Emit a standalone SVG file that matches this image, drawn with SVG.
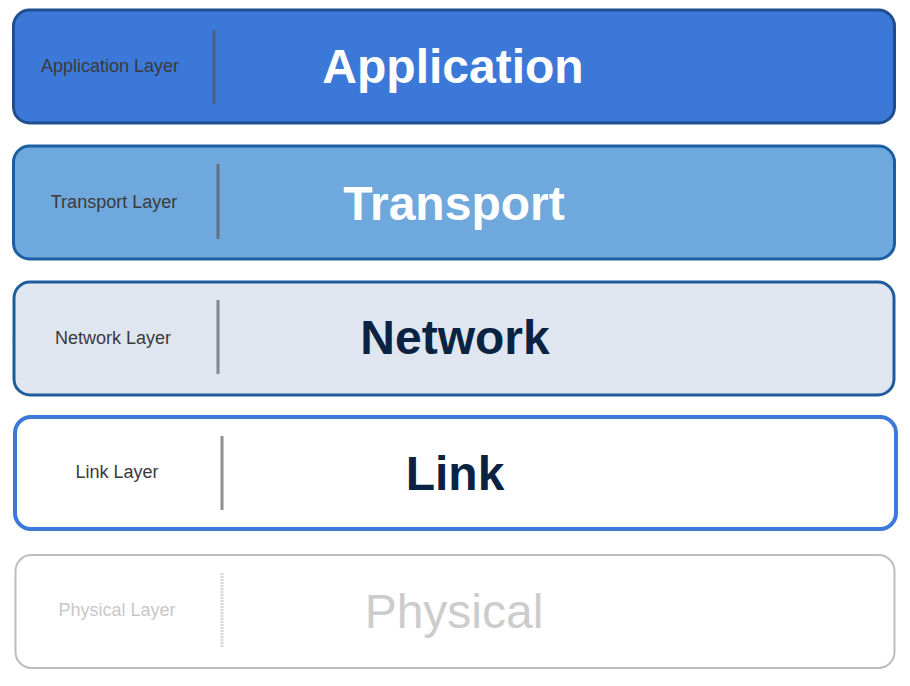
<svg xmlns="http://www.w3.org/2000/svg" width="910" height="686" viewBox="0 0 910 686">
<style>
.box{stroke-width:3}
.lbl{font-family:"Liberation Sans",Arial,sans-serif;font-size:18px;fill:#3a3a3a;text-anchor:middle}
.big{font-family:"Liberation Sans",Arial,sans-serif;font-size:48px;font-weight:bold;text-anchor:middle}
.div{stroke:#555;stroke-opacity:0.65;stroke-width:3}
</style>
<rect width="910" height="686" fill="#ffffff"/>
<g id="application">
<rect class="box" x="13.5" y="10" width="881" height="113" rx="16" fill="#3c78d8" stroke="#1f4e8f"/>
<line class="div" x1="214" y1="30" x2="214" y2="104"/>
<text class="lbl" x="110" y="72">Application Layer</text>
<text class="big" x="453" y="83" fill="#ffffff">Application</text>
</g>
<g id="transport">
<rect class="box" x="13.5" y="146" width="881" height="113" rx="16" fill="#6fa8dc" stroke="#1a5ea3"/>
<line class="div" x1="218" y1="164" x2="218" y2="239"/>
<text class="lbl" x="114" y="208">Transport Layer</text>
<text class="big" x="454" y="220" fill="#ffffff">Transport</text>
</g>
<g id="network">
<rect class="box" x="14" y="282" width="880" height="113" rx="16" fill="#dfe6f0" stroke="#1f5c9c"/>
<line class="div" x1="218" y1="300" x2="218" y2="374"/>
<text class="lbl" x="113" y="344">Network Layer</text>
<text class="big" x="455" y="354" fill="#0b2342">Network</text>
</g>
<g id="link">
<rect x="15" y="417" width="881" height="112" rx="16" fill="#ffffff" stroke="#3c78d8" stroke-width="4"/>
<line class="div" x1="222" y1="436" x2="222" y2="510"/>
<text class="lbl" x="117" y="478">Link Layer</text>
<text class="big" x="455" y="490" fill="#0b2342">Link</text>
</g>
<g id="physical">
<rect x="15.5" y="555" width="879" height="113" rx="16" fill="#ffffff" stroke="#bdbdbd" stroke-width="2"/>
<line x1="222" y1="573" x2="222" y2="648" stroke="#d6d6d6" stroke-width="3" stroke-dasharray="2 1"/>
<text class="lbl" x="117" y="616" fill="#c8c8c8" style="fill:#c8c8c8">Physical Layer</text>
<text x="454" y="628" font-family="Liberation Sans, Arial, sans-serif" font-size="48" text-anchor="middle" fill="#cccccc">Physical</text>
</g>
<g id="connectors"/>
</svg>
